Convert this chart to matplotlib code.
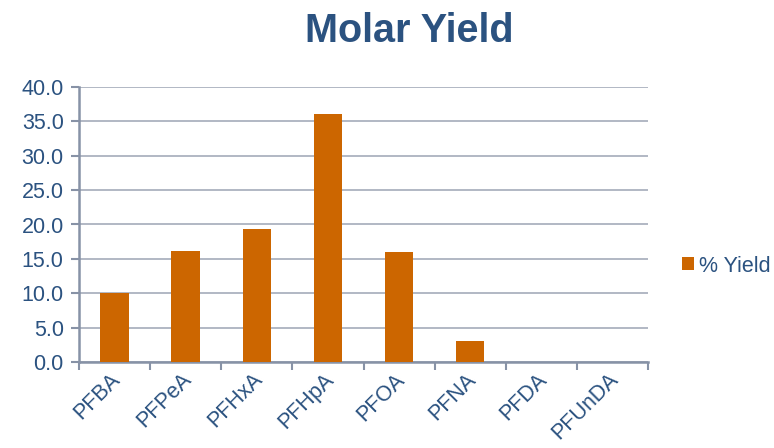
import matplotlib
matplotlib.use("Agg")
import matplotlib.pyplot as plt
import matplotlib.transforms as mtransforms
import numpy as np

categories = ["PFBA", "PFPeA", "PFHxA", "PFHpA", "PFOA", "PFNA", "PFDA", "PFUnDA"]
yield_pct = [10.0, 16.1, 19.4, 36.1, 16.0, 3.0, 0.0, 0.0]
series_name = "% Yield"
title = "Molar Yield"

plt.rcParams['font.family'] = ['Liberation Sans', 'DejaVu Sans']
text_c = "#2B5280"
bar_c = "#CC6600"
grid_c = "#A4ABBA"
axis_c = "#8792A6"

fig = plt.figure(figsize=(7.74, 4.48), dpi=100)
ax = fig.add_axes([79/774, 1-362/448, (648-79)/774, (362-87)/448])

x = np.arange(len(categories))
ax.bar(x, yield_pct, width=0.4, color=bar_c, label=series_name, zorder=3)
ax.set_xlim(-0.5, len(categories)-0.5)
ax.set_ylim(0, 40)
yt = np.arange(0, 40.1, 5)
ax.set_yticks(yt)
ax.set_yticklabels([f"{v:.1f}" for v in yt], fontsize=15.5, color=text_c)
ax.yaxis.grid(True, color=grid_c, linewidth=1.2, zorder=0)
ax.set_xticks(np.arange(-0.5, len(categories), 1.0))
ax.set_xticklabels([])
ax.set_xticks(x, minor=True)
ax.set_xticklabels(categories, minor=True, rotation=45, ha='right', rotation_mode='anchor',
                   fontsize=15.5, color=text_c)
ax.tick_params(axis='x', which='minor', length=0, pad=5)
ax.tick_params(axis='x', which='major', length=6, color=axis_c, width=1.5)
ax.tick_params(axis='y', length=6, color=axis_c, width=1.5, pad=5)
for s in ['top', 'right']:
    ax.spines[s].set_visible(False)
for s in ['left', 'bottom']:
    ax.spines[s].set_color(axis_c)
    ax.spines[s].set_linewidth(1.8)

shift = mtransforms.ScaledTranslation(-5/100, 0, fig.dpi_scale_trans)
for lab in ax.get_xticklabels(minor=True):
    lab.set_transform(lab.get_transform() + shift)

fig.text(409/774, 1-31/448, title, ha='center', va='center', fontsize=28.5,
         fontweight='bold', color=text_c)

leg = fig.legend(loc='center left', bbox_to_anchor=(682/774, 1-266/448), frameon=False,
                 fontsize=15.5, handlelength=0.56, handleheight=0.56, handletextpad=0.25,
                 borderpad=0, borderaxespad=0)
for t in leg.get_texts():
    t.set_color(text_c)

fig.savefig("out.png", dpi=100)
